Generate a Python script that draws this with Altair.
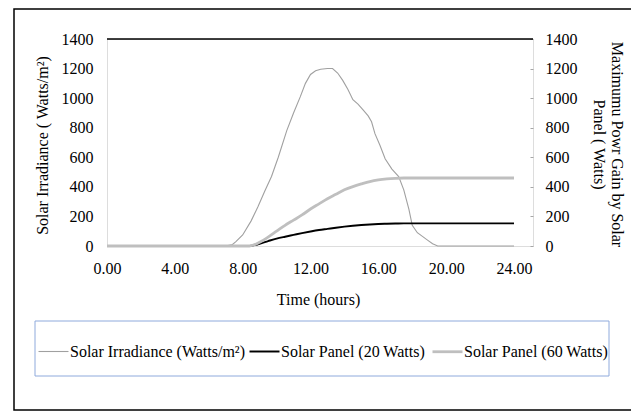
import altair as alt
import pandas as pd

# Solar irradiance (W/m2) vs time (hours)
irr_t = [0, 7.0, 7.4, 7.6, 8.0, 8.5, 8.9, 9.3, 9.7, 10.1, 10.6, 11.0, 11.4, 11.7, 12.0, 12.3,
         12.6, 13.0, 13.3, 13.6, 13.9, 14.2, 14.5, 14.8, 15.1, 15.4, 15.6, 15.8, 16.1, 16.4,
         16.8, 17.2, 17.5, 17.8, 18.0, 18.3, 18.6, 18.9, 19.2, 19.5, 24.0]
irr_v = [0, 0, 10, 30, 75, 170, 265, 370, 470, 600, 780, 900, 1010, 1100, 1160, 1185,
         1195, 1200, 1200, 1170, 1120, 1060, 990, 960, 920, 880, 840, 760, 680, 590,
         520, 470, 380, 250, 140, 90, 65, 40, 15, 0, 0]

# Panel power (W) vs time
pan_t = [0, 8.4, 9.0, 9.5, 10.0, 10.5, 11.0, 11.5, 12.0, 12.5, 13.0, 13.5, 14.0, 14.5,
         15.0, 15.5, 16.0, 16.5, 17.0, 17.5, 18.0, 24.0]
p60_v = [0, 0, 25, 60, 100, 140, 175, 210, 250, 285, 320, 350, 380, 402,
         420, 436, 447, 454, 458, 460, 460, 460]
p20_v = [0, 0, 15, 33, 50, 63, 75, 87, 98, 108, 116, 124, 131, 137,
         142, 146, 149, 151, 152, 153, 153, 153]

series_names = ["Solar Irradiance (Watts/m²)", "Solar Panel (20 Watts)", "Solar Panel (60 Watts)"]
series_colors = ["#A0A0A0", "#000000", "#BFBFBF"]
series_widths = [1.1, 2.8, 2.6]

x_ticks = [0, 4, 8, 12, 16, 20, 24]
y_ticks = [0, 200, 400, 600, 800, 1000, 1200, 1400]

irr_df = pd.DataFrame({"t": irr_t, "v": irr_v, "series": series_names[0]})
pan_df = pd.concat([
    pd.DataFrame({"t": pan_t, "v": p20_v, "series": series_names[1]}),
    pd.DataFrame({"t": pan_t, "v": p60_v, "series": series_names[2]}),
])
one = pd.DataFrame({"a": [0]})

W, H = 426, 207
FONT = "Liberation Serif"
FS = 16

xs = alt.Scale(domain=[0, 25.12], nice=False, zero=False)
ys = alt.Scale(domain=[0, 1400], nice=False)

leg = dict(title=None, orient="none", legendX=-70, legendY=296,
           direction="horizontal", columns=3, columnPadding=0,
           labelOffset=0, symbolType="stroke", symbolSize=900,
           labelFont=FONT, labelFontSize=FS, labelColor="black",
           labelLimit=400, padding=0)
color = alt.Color("series:N", scale=alt.Scale(domain=series_names, range=series_colors),
                  legend=alt.Legend(**leg))
swidth = alt.StrokeWidth("series:N", scale=alt.Scale(domain=series_names, range=series_widths),
                         legend=alt.Legend(**leg))

xaxis = alt.Axis(values=x_ticks, format=".2f", title="Time (hours)", grid=False, domain=False,
                 ticks=False, tickSize=0, labelPadding=14, labelFlush=False,
                 labelFont=FONT, labelFontSize=FS,
                 labelColor="black", titleFont=FONT, titleFontSize=FS, titleFontWeight="normal",
                 titleColor="black", titleX=211, titleY=53, titleBaseline="middle")

irr = alt.Chart(irr_df).mark_line(interpolate="linear").encode(
    x=alt.X("t:Q", scale=xs, axis=xaxis),
    y=alt.Y("v:Q", scale=ys, axis=alt.Axis(values=y_ticks, format="d",
                                           title="Solar Irradiance ( Watts/m²)",
                                           grid=False, domain=False, ticks=False, tickSize=0,
                                           labelPadding=14, labelFont=FONT, labelFontSize=FS,
                                           labelColor="black", titleFont=FONT, titleFontSize=FS,
                                           titleFontWeight="normal", titleColor="black",
                                           titleX=-65, titleY=106, titleBaseline="middle",
                                           titleAlign="center", titleAngle=270)),
    color=color, strokeWidth=swidth,
)

pan = alt.Chart(pan_df).mark_line(interpolate="monotone").encode(
    x=alt.X("t:Q", scale=xs, axis=xaxis),
    y=alt.Y("v:Q", scale=ys, axis=alt.Axis(values=y_ticks, format="d", orient="right", offset=-3,
                                           title=["Maximumu Powr Gain by Solar", "Panel ( Watts)"],
                                           grid=False, domain=False, ticks=True, tickSize=3,
                                           tickColor="#A6A6A6", labelPadding=12,
                                           labelFont=FONT, labelFontSize=FS, labelColor="black",
                                           titleFont=FONT, titleFontSize=FS, titleFontWeight="normal",
                                           titleColor="black", titleX=86, titleY=105,
                                           titleBaseline="middle", titleAlign="center",
                                           titleAngle=90)),
    color=color, strokeWidth=swidth,
)

top_rule = alt.Chart(one).mark_rule(color="black", strokeWidth=1.5).encode(
    x=alt.value(0), x2=alt.value(W), y=alt.value(0))

border = alt.Chart(one).mark_rect(fill=None, stroke="black", strokeWidth=1.5, clip=False).encode(
    x=alt.value(-93), x2=alt.value(526), y=alt.value(-30), y2=alt.value(371))

legend_box = alt.Chart(one).mark_rect(fill=None, stroke="#8FAADC", strokeWidth=1, clip=False).encode(
    x=alt.value(-72), x2=alt.value(502), y=alt.value(282), y2=alt.value(337))

chart = alt.layer(border, legend_box, irr, pan, top_rule).resolve_scale(y="independent").properties(
    width=W, height=H,
    autosize=alt.AutoSizeParams(type="none"),
    padding={"left": 99, "top": 31, "right": 98, "bottom": 166},
).configure_view(stroke="#A6A6A6", strokeWidth=1).configure(
    background="white", font=FONT
).configure_legend(labelFont=FONT, labelFontSize=FS, labelOffset=0, columnPadding=0,
                   symbolType="stroke", labelColor="black")

chart.save("out.html", embed_options={"renderer": "svg", "actions": False})
